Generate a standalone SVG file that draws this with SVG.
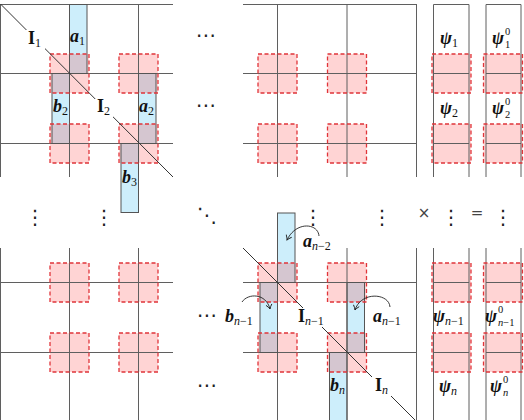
<svg xmlns="http://www.w3.org/2000/svg" width="524" height="420" viewBox="0 0 524 420">
<defs>
<style>
.g{stroke:#5f5f5f;stroke-width:1;fill:none}
.strip{fill:#cdeefb}
.strip-o{fill:none;stroke:#555;stroke-width:1}
.sq{fill:#ff0000;fill-opacity:0.17}
.sq-o{fill:none;stroke:#e0353a;stroke-width:1.3;stroke-dasharray:4 2.5}
.diag{stroke:#333;stroke-width:1;fill:none}
.m{font-family:"Liberation Serif","DejaVu Serif",serif;font-size:18px;fill:#111}
.bi{font-style:italic;font-weight:bold}
.b{font-weight:bold}
.sub{font-size:12px;font-weight:normal;font-style:normal}
.ss{font-family:"Liberation Serif","DejaVu Serif",serif;font-size:10.5px;fill:#111}
.it{font-style:italic}
.dots{font-family:"DejaVu Sans",sans-serif;font-size:20px;fill:#222}
.op{font-family:"DejaVu Sans",sans-serif;font-size:15px;fill:#444}
.arr{fill:none;stroke:#222;stroke-width:0.9}
.wb{fill:#fff}
</style>
<marker id="ah" markerWidth="8" markerHeight="8" refX="6" refY="4" orient="auto" markerUnits="userSpaceOnUse">
<path d="M1.5,1 Q4,3.2 6,4 Q4,4.8 1.5,7" fill="none" stroke="#222" stroke-width="0.9"/>
</marker>
</defs>

<!-- blue strips fill -->
<g id="strips">
<rect class="strip" x="69.5" y="4.5" width="17.5" height="69"/>
<rect class="strip" x="52" y="73.5" width="17.5" height="70"/>
<rect class="strip" x="138.5" y="73.5" width="17.5" height="70"/>
<rect class="strip" x="121" y="143.5" width="17.5" height="69"/>
<rect class="strip" x="277.5" y="213" width="17.5" height="69.5"/>
<rect class="strip" x="260" y="282.5" width="17.5" height="70"/>
<rect class="strip" x="347" y="282.5" width="17.5" height="70"/>
<rect class="strip" x="329.5" y="352.5" width="17.5" height="70"/>
</g>

<!-- red square fills -->
<g id="squares-fill">
<rect class="sq" x="50" y="54" width="39" height="39"/>
<rect class="sq" x="119" y="54" width="39" height="39"/>
<rect class="sq" x="50" y="124" width="39" height="39"/>
<rect class="sq" x="119" y="124" width="39" height="39"/>
<rect class="sq" x="258" y="54" width="39" height="39"/>
<rect class="sq" x="327.5" y="54" width="39" height="39"/>
<rect class="sq" x="258" y="124" width="39" height="39"/>
<rect class="sq" x="327.5" y="124" width="39" height="39"/>
<rect class="sq" x="432" y="54" width="39" height="39"/>
<rect class="sq" x="483.5" y="54" width="39" height="39"/>
<rect class="sq" x="432" y="124" width="39" height="39"/>
<rect class="sq" x="483.5" y="124" width="39" height="39"/>
<rect class="sq" x="50" y="263" width="39" height="39"/>
<rect class="sq" x="119" y="263" width="39" height="39"/>
<rect class="sq" x="50" y="333" width="39" height="39"/>
<rect class="sq" x="119" y="333" width="39" height="39"/>
<rect class="sq" x="258" y="263" width="39" height="39"/>
<rect class="sq" x="327.5" y="263" width="39" height="39"/>
<rect class="sq" x="258" y="333" width="39" height="39"/>
<rect class="sq" x="327.5" y="333" width="39" height="39"/>
<rect class="sq" x="432" y="263" width="39" height="39"/>
<rect class="sq" x="483.5" y="263" width="39" height="39"/>
<rect class="sq" x="432" y="333" width="39" height="39"/>
<rect class="sq" x="483.5" y="333" width="39" height="39"/>
</g>

<!-- grid lines -->
<g id="grid-top-left" class="g">
<path d="M0,4.5H173M0,73.5H173M0,143.5H173M0.5,4V177M69.5,4V177M138.5,4V177"/>
</g>
<g id="grid-top-mid" class="g">
<path d="M243,4.5H417M243,73.5H417M243,143.5H417M277.5,4V177M347,4V177M416.5,4V177"/>
</g>
<g id="psi-top" class="g">
<path d="M433.5,177V4.5H469V177M433.5,73.5H469M433.5,143.5H469"/>
<path d="M486,177V4.5H521V177M486,73.5H521M486,143.5H521"/>
</g>
<g id="grid-bottom-left" class="g">
<path d="M0,282.5H173M0,352.5H173M0.5,248V420M69.5,248V420M138.5,248V420"/>
</g>
<g id="grid-bottom-mid" class="g">
<path d="M243,282.5H417M243,352.5H417M277.5,282.5V420M347,248V420M416.5,248V420"/>
</g>
<g id="psi-bottom" class="g">
<path d="M433.5,248V420M469,248V420M433.5,282.5H469M433.5,352.5H469"/>
<path d="M486,248V420M521,248V420M486,282.5H521M486,352.5H521"/>
</g>

<!-- strip outlines -->
<g id="strip-outlines">
<rect class="strip-o" x="69.5" y="4.5" width="17.5" height="69"/>
<rect class="strip-o" x="52" y="73.5" width="17.5" height="70"/>
<rect class="strip-o" x="138.5" y="73.5" width="17.5" height="70"/>
<rect class="strip-o" x="121" y="143.5" width="17.5" height="69"/>
<rect class="strip-o" x="277.5" y="213" width="17.5" height="69.5"/>
<rect class="strip-o" x="260" y="282.5" width="17.5" height="70"/>
<rect class="strip-o" x="347" y="282.5" width="17.5" height="70"/>
<rect class="strip-o" x="329.5" y="352.5" width="17.5" height="70"/>
</g>

<!-- red dashed outlines -->
<g id="squares-outline">
<rect class="sq-o" x="50" y="54" width="39" height="39"/>
<rect class="sq-o" x="119" y="54" width="39" height="39"/>
<rect class="sq-o" x="50" y="124" width="39" height="39"/>
<rect class="sq-o" x="119" y="124" width="39" height="39"/>
<rect class="sq-o" x="258" y="54" width="39" height="39"/>
<rect class="sq-o" x="327.5" y="54" width="39" height="39"/>
<rect class="sq-o" x="258" y="124" width="39" height="39"/>
<rect class="sq-o" x="327.5" y="124" width="39" height="39"/>
<rect class="sq-o" x="432" y="54" width="39" height="39"/>
<rect class="sq-o" x="483.5" y="54" width="39" height="39"/>
<rect class="sq-o" x="432" y="124" width="39" height="39"/>
<rect class="sq-o" x="483.5" y="124" width="39" height="39"/>
<rect class="sq-o" x="50" y="263" width="39" height="39"/>
<rect class="sq-o" x="119" y="263" width="39" height="39"/>
<rect class="sq-o" x="50" y="333" width="39" height="39"/>
<rect class="sq-o" x="119" y="333" width="39" height="39"/>
<rect class="sq-o" x="258" y="263" width="39" height="39"/>
<rect class="sq-o" x="327.5" y="263" width="39" height="39"/>
<rect class="sq-o" x="258" y="333" width="39" height="39"/>
<rect class="sq-o" x="327.5" y="333" width="39" height="39"/>
<rect class="sq-o" x="432" y="263" width="39" height="39"/>
<rect class="sq-o" x="483.5" y="263" width="39" height="39"/>
<rect class="sq-o" x="432" y="333" width="39" height="39"/>
<rect class="sq-o" x="483.5" y="333" width="39" height="39"/>
</g>

<!-- diagonals -->
<g id="diagonals">
<path class="diag" d="M0.5,4L173,177"/>
<path class="diag" d="M243,248L418,423"/>
</g>

<!-- connectors -->
<g id="connectors">
<path class="arr" d="M319,236C318,223 296,221 287,240" marker-end="url(#ah)"/>
<path class="arr" d="M242,302C248,293 266,293 270,309" marker-end="url(#ah)"/>
<path class="arr" d="M390,307C389,293 361,291 355,310" marker-end="url(#ah)"/>
</g>

<!-- labels -->
<g id="label-I1"><rect class="wb" x="26" y="30" width="19" height="19"/><text class="m b" x="28" y="44">I<tspan class="sub" dy="3">1</tspan></text></g>
<g id="label-a1"><text class="m bi" x="70" y="42">a<tspan class="sub" dy="3">1</tspan></text></g>
<g id="label-I2"><rect class="wb" x="95" y="99" width="18" height="18"/><text class="m b" x="97" y="112">I<tspan class="sub" dy="3">2</tspan></text></g>
<g id="label-b2"><text class="m bi" x="53" y="112">b<tspan class="sub" dy="3">2</tspan></text></g>
<g id="label-a2"><text class="m bi" x="139" y="112">a<tspan class="sub" dy="3">2</tspan></text></g>
<g id="label-b3"><text class="m bi" x="122" y="183">b<tspan class="sub" dy="3">3</tspan></text></g>

<g id="label-psi1"><text class="m bi" x="440" y="44">ψ<tspan class="sub" dy="3">1</tspan></text></g>
<g id="label-psi10"><text class="m bi" x="492" y="44">ψ</text><text class="ss" x="505" y="35">0</text><text class="ss" x="505" y="48">1</text></g>
<g id="label-psi2"><text class="m bi" x="440" y="114">ψ<tspan class="sub" dy="3">2</tspan></text></g>
<g id="label-psi20"><text class="m bi" x="492" y="114">ψ</text><text class="ss" x="505" y="105">0</text><text class="ss" x="505" y="118">2</text></g>

<g id="dots">
<text class="dots" x="206" y="42" text-anchor="middle">⋯</text>
<text class="dots" x="206" y="112" text-anchor="middle">⋯</text>
<text class="dots" x="35" y="224" text-anchor="middle">⋮</text>
<text class="dots" x="104" y="224" text-anchor="middle">⋮</text>
<text class="dots" x="207" y="222" text-anchor="middle">⋱</text>
<text class="dots" x="313" y="224" text-anchor="middle">⋮</text>
<text class="dots" x="382" y="224" text-anchor="middle">⋮</text>
<text class="op" x="424" y="218" text-anchor="middle">×</text>
<text class="dots" x="451" y="224" text-anchor="middle">⋮</text>
<text class="op" x="477" y="218" text-anchor="middle">=</text>
<text class="dots" x="503" y="224" text-anchor="middle">⋮</text>
<text class="dots" x="207" y="322" text-anchor="middle">⋯</text>
<text class="dots" x="207" y="392" text-anchor="middle">⋯</text>
</g>

<g id="label-an2"><text class="m bi" x="303" y="247">a<tspan class="sub" dy="3"><tspan class="it">n</tspan>−2</tspan></text></g>
<g id="label-bn1"><text class="m bi" x="225" y="322">b<tspan class="sub" dy="3"><tspan class="it">n</tspan>−1</tspan></text></g>
<g id="label-In1"><rect class="wb" x="295" y="308" width="34" height="19"/><text class="m b" x="298" y="322">I<tspan class="sub" dy="3"><tspan class="it">n</tspan>−1</tspan></text></g>
<g id="label-an1"><text class="m bi" x="373" y="322">a<tspan class="sub" dy="3"><tspan class="it">n</tspan>−1</tspan></text></g>
<g id="label-bn"><text class="m bi" x="330" y="391">b<tspan class="sub it" dy="3">n</tspan></text></g>
<g id="label-In"><rect class="wb" x="372" y="377" width="19" height="19"/><text class="m b" x="375" y="391">I<tspan class="sub it" dy="3">n</tspan></text></g>
<g id="label-psin1"><text class="m bi" x="433" y="322">ψ<tspan class="sub" dy="3"><tspan class="it">n</tspan>−1</tspan></text></g>
<g id="label-psin10"><text class="m bi" x="485" y="322">ψ</text><text class="ss" x="498" y="313">0</text><text class="ss" x="498" y="326"><tspan class="it">n</tspan>−1</text></g>
<g id="label-psin"><text class="m bi" x="439" y="392">ψ<tspan class="sub it" dy="3">n</tspan></text></g>
<g id="label-psin0"><text class="m bi" x="490" y="392">ψ</text><text class="ss" x="503" y="383">0</text><text class="ss it" x="503" y="396">n</text></g>
</svg>
